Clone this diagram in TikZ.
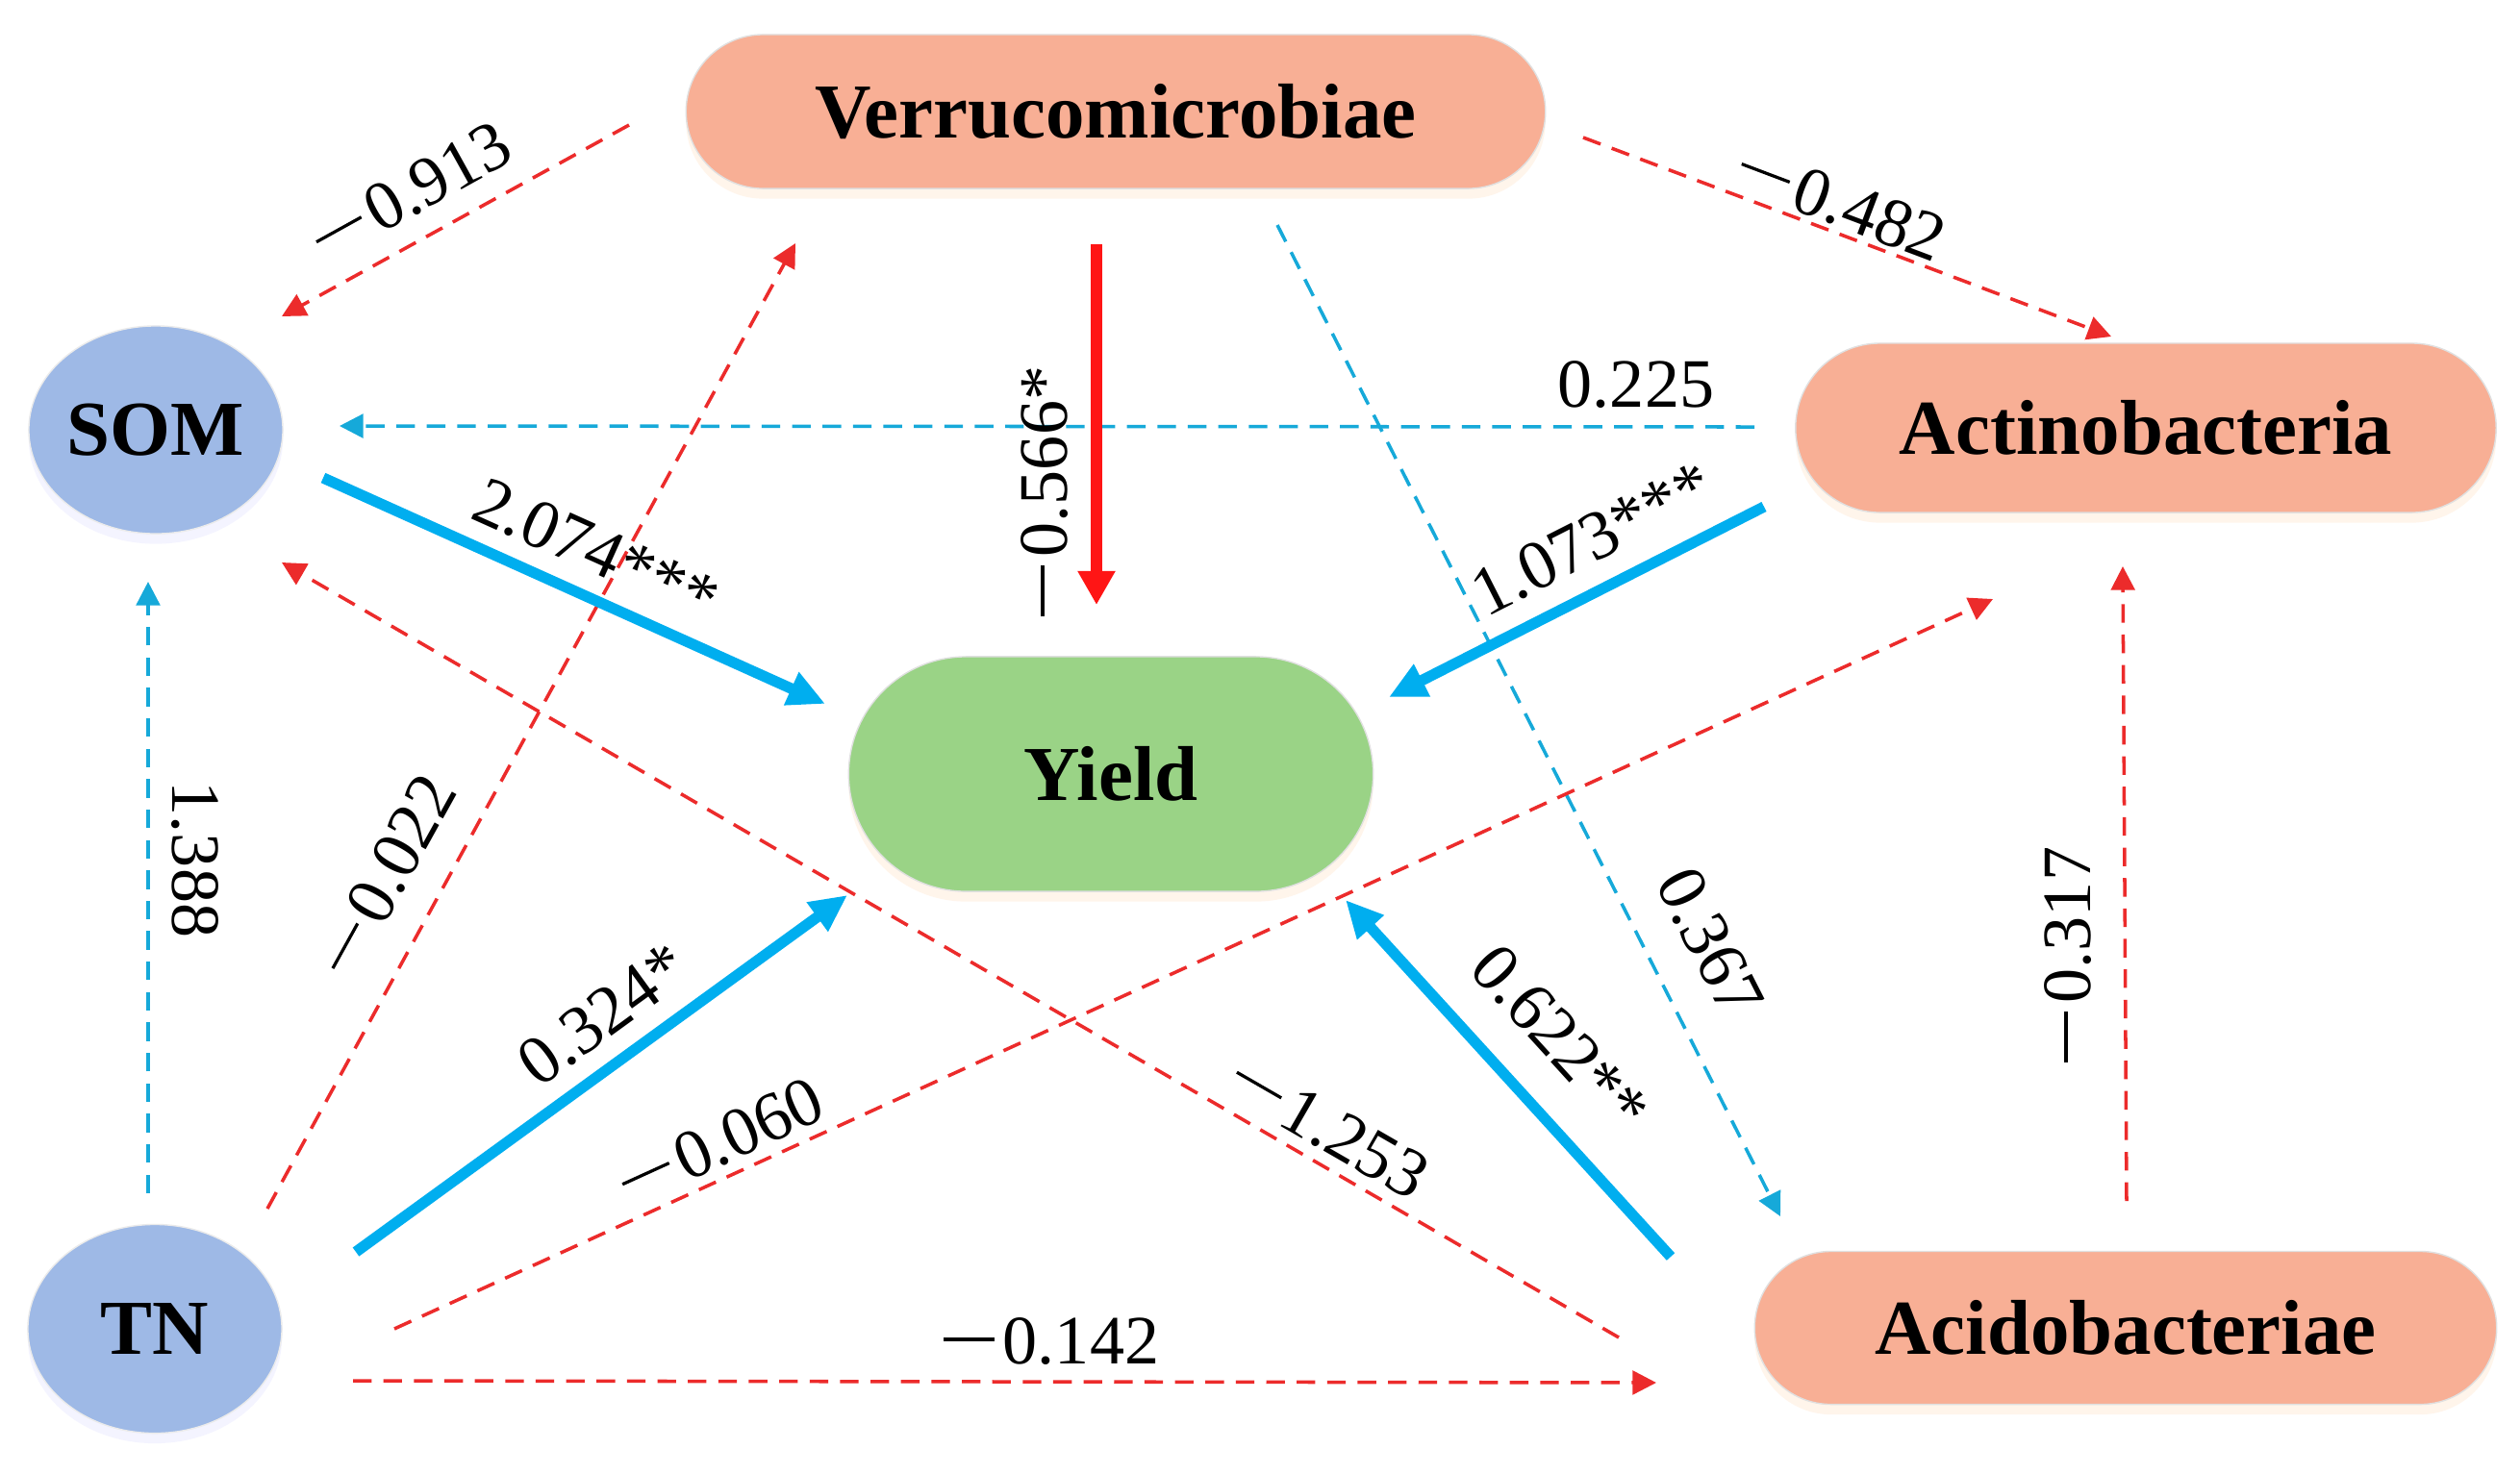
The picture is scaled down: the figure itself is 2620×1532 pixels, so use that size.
\documentclass[tikz,border=0pt]{standalone}
\usepackage{fontspec}
\setmainfont{Liberation Serif}
\usetikzlibrary{arrows.meta,shapes.misc,shapes.geometric,shadows}
\definecolor{salmon}{HTML}{F8AF95}
\definecolor{nodeblue}{HTML}{9EB9E6}
\definecolor{yieldgreen}{HTML}{9AD386}
\definecolor{lineblue}{HTML}{00AEEF}
\definecolor{dashblue}{HTML}{16A9D9}
\definecolor{dashred}{HTML}{EC2B2B}
\definecolor{solidred}{HTML}{FF1515}
\newcommand\negsign{\rule[0.33em]{0.74em}{0.045em}\hspace{0.12em}}
\tikzset{
  nodefont/.style={font=\fontsize{23}{27}\selectfont\bfseries},
  lblfont/.style={font=\fontsize{20.5}{24}\selectfont, inner sep=0pt},
  pill/.style={rounded rectangle, draw=black!12, line width=0.4pt, nodefont, inner sep=0pt,
     drop shadow={shadow xshift=0pt, shadow yshift=-3pt, fill=orange!30, opacity=0.25}},
  ell/.style={ellipse, draw=black!8, line width=0.4pt, nodefont, inner sep=0pt,
     drop shadow={shadow xshift=0pt, shadow yshift=-3pt, fill=blue!20, opacity=0.2}},
  reddash/.style={draw=dashred, line width=1pt, dash pattern=on 5.5pt off 3.5pt,
     -{Triangle[length=7pt,width=7pt]}},
  bluedash/.style={draw=dashblue, line width=1pt, dash pattern=on 5.5pt off 3.5pt,
     -{Triangle[length=7pt,width=7pt]}},
  bluethick/.style={draw=lineblue, line width=3.2pt, -{Triangle[length=11pt,width=10pt]}},
  redthick/.style={draw=solidred, line width=3.2pt, -{Triangle[length=10pt,width=10.5pt]}},
}
\begin{document}
\begin{tikzpicture}[x=0.01cm,y=-0.01cm]
\useasboundingbox[fill=white] (0,0) rectangle (2620,1532);
% nodes
\node[pill, fill=salmon, minimum width=8.93cm, minimum height=1.60cm] (verr) at (1160,116) {Verrucomicrobiae};
\node[pill, fill=salmon, minimum width=7.28cm, minimum height=1.76cm] (actino) at (2231,445) {Actinobacteria};
\node[pill, fill=salmon, minimum width=7.71cm, minimum height=1.59cm] (acido) at (2210,1381) {Acidobacteriae};
\node[pill, fill=yieldgreen, minimum width=5.45cm, minimum height=2.44cm] (yield) at (1155,805) {Yield};
\node[ell, fill=nodeblue, minimum width=2.64cm, minimum height=2.16cm] (som) at (162,447) {SOM};
\node[ell, fill=nodeblue, minimum width=2.64cm, minimum height=2.17cm] (tn) at (161,1382) {TN};
% connector end points
\coordinate (verrSw) at (654,130);   \coordinate (somNe) at (293,329);
\coordinate (tnNe) at (278,1257);    \coordinate (verrSwb) at (827,253);
\coordinate (verrS) at (1140,254);   \coordinate (yieldN) at (1140,629);
\coordinate (verrSe) at (1328,234);  \coordinate (acidoNw) at (1851,1265);
\coordinate (verrE) at (1646,143);   \coordinate (actinoN) at (2195,350);
\coordinate (actinoW) at (1824,444); \coordinate (somE) at (353,443);
\coordinate (somSe) at (336,497);    \coordinate (yieldNw) at (858,732);
\coordinate (acidoW) at (1683,1391); \coordinate (somSeb) at (293,585);
\coordinate (tnE) at (410,1382);     \coordinate (actinoSw) at (2072,623);
\coordinate (tnNeb) at (370,1302);   \coordinate (yieldSw) at (881,931);
\coordinate (tnN) at (154,1241);     \coordinate (somS) at (154,605);
\coordinate (tnEb) at (367,1436);    \coordinate (acidoWb) at (1722,1438);
\coordinate (acidoN) at (2211,1249); \coordinate (actinoS) at (2207,589);
\coordinate (actinoSwb) at (1834,527); \coordinate (yieldNe) at (1444,725);
\coordinate (acidoNwb) at (1737,1307); \coordinate (yieldSe) at (1399,936);
% connectors
\draw[reddash] (verrSw) -- (somNe);
\draw[reddash] (tnNe) -- (verrSwb);
\draw[bluedash] (verrSe) -- (acidoNw);
\draw[reddash] (verrE) -- (actinoN);
\draw[bluedash] (actinoW) -- (somE);
\draw[reddash] (acidoW) -- (somSeb);
\draw[reddash] (tnE) -- (actinoSw);
\draw[bluedash] (tnN) -- (somS);
\draw[reddash] (tnEb) -- (acidoWb);
\draw[reddash] (acidoN) -- (actinoS);
\draw[redthick] (verrS) -- (yieldN);
\draw[bluethick] (somSe) -- (yieldNw);
\draw[bluethick] (tnNeb) -- (yieldSw);
\draw[bluethick] (actinoSwb) -- (yieldNe);
\draw[bluethick] (acidoNwb) -- (yieldSe);
% labels
\node[lblfont, rotate=29] (l1) at (428,199) {\negsign0.913};
\node[lblfont, rotate=61] (l2) at (402,910) {\negsign0.022};
\node[lblfont, rotate=90] (l3) at (1086,511) {\negsign0.566*};
\node[lblfont, rotate=-63] (l4) at (1778,980) {0.367};
\node[lblfont, rotate=-20.7] (l5) at (1915,212) {\negsign0.482};
\node[lblfont] (l6) at (1701,400) {0.225};
\node[lblfont, rotate=-24.2] (l7) at (620,572) {2.074***};
\node[lblfont, rotate=-30] (l8) at (1382,1173) {\negsign1.253};
\node[lblfont, rotate=24.5] (l9) at (750,1187) {\negsign0.060};
\node[lblfont, rotate=36] (l10) at (627,1055) {0.324*};
\node[lblfont, rotate=-90] (l11) at (203,894) {1.388};
\node[lblfont] (l12) at (1093,1395) {\negsign0.142};
\node[lblfont, rotate=90] (l13) at (2150,993) {\negsign0.317};
\node[lblfont, rotate=26.9] (l14) at (1655,560) {1.073***};
\node[lblfont, rotate=-47.7] (l15) at (1622,1080) {0.622**};
\end{tikzpicture}
\end{document}
